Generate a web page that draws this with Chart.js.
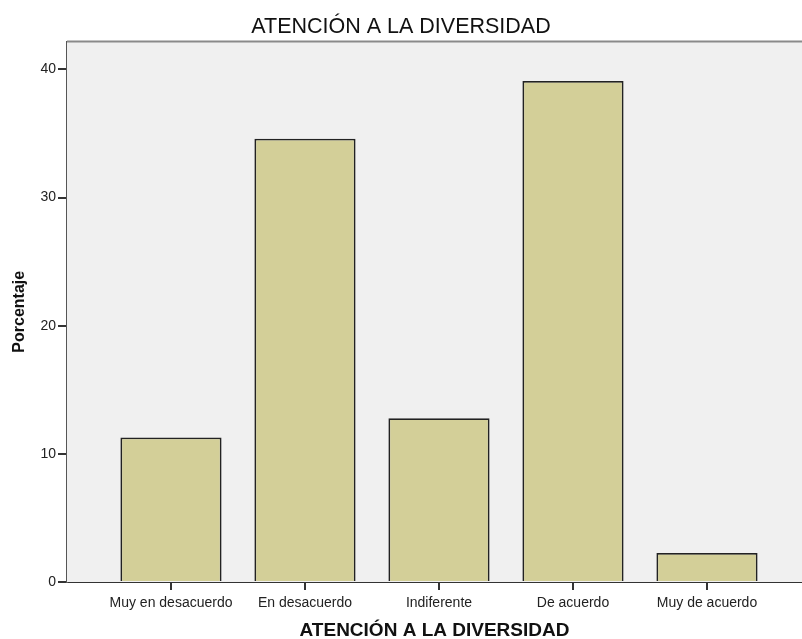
<!DOCTYPE html>
<html>
<head>
<meta charset="utf-8">
<script src="https://cdn.jsdelivr.net/npm/chart.js@4"></script>
<style>
  html, body { margin: 0; padding: 0; background: #ffffff; }
  #wrap { width: 802px; height: 639px; }
</style>
</head>
<body>
<div id="wrap"><canvas id="chart" width="802" height="639"></canvas></div>
<script>
// Categories and percentages
const categories = ['Muy en desacuerdo', 'En desacuerdo', 'Indiferente', 'De acuerdo', 'Muy de acuerdo'];
const porcentaje = [11.28, 34.59, 12.78, 39.10, 2.26];
const yTicks = [0, 10, 20, 30, 40];

const titleText = 'ATENCIÓN A LA DIVERSIDAD';
const fontFamily = "'Liberation Sans', Arial, sans-serif";

// Plot background + top frame line
const plotFrame = {
    id: 'plotFrame',
    beforeDatasetsDraw(chart) {
        const { ctx, chartArea } = chart;
        ctx.save();
        ctx.fillStyle = '#f0f0f0';
        ctx.fillRect(chartArea.left, chartArea.top, chartArea.right - chartArea.left, chartArea.bottom - chartArea.top);
        ctx.strokeStyle = '#8a8a8a';
        ctx.lineWidth = 2;
        ctx.beginPath();
        ctx.moveTo(chartArea.left, chartArea.top);
        ctx.lineTo(chartArea.right, chartArea.top);
        ctx.stroke();
        ctx.restore();
    }
};

const points = categories.map((c, i) => ({ x: i, y: porcentaje[i] }));

new Chart(document.getElementById('chart').getContext('2d'), {
    type: 'bar',
    data: {
        datasets: [{
            label: 'Porcentaje',
            data: points,
            backgroundColor: '#d3cf98',
            borderColor: '#222',
            borderWidth: 1.8,
            borderSkipped: 'start',
            categoryPercentage: 1,
            barPercentage: 0.755
        }]
    },
    plugins: [plotFrame],
    options: {
        responsive: false,
        animation: false,
        layout: { padding: 0 },
        plugins: {
            legend: { display: false },
            tooltip: { enabled: false },
            title: {
                display: true,
                text: titleText,
                color: '#111',
                font: { family: fontFamily, size: 21.5, weight: 'normal', lineHeight: 1 },
                padding: { top: 16, bottom: 4 }
            }
        },
        scales: {
            x: {
                type: 'linear',
                min: -0.776,
                max: 4.709,
                offset: false,
                afterFit: s => { s.height = 57; },
                afterBuildTicks: s => { s.ticks = categories.map((c, i) => ({ value: i })); },
                grid: { offset: false, drawOnChartArea: false, drawTicks: true, tickLength: 8, color: '#333', lineWidth: 2 },
                border: { display: true, color: '#333', width: 2 },
                ticks: {
                    autoSkip: false,
                    maxRotation: 0,
                    padding: 5,
                    color: '#222',
                    font: { family: fontFamily, size: 14 },
                    callback: v => categories[v] !== undefined ? categories[v] : ''
                },
                title: {
                    display: true,
                    text: titleText,
                    color: '#111',
                    font: { family: fontFamily, size: 19, weight: 'bold', lineHeight: 1 },
                    padding: { top: 0, bottom: -1.5 }
                }
            },
            y: {
                min: 0,
                max: 42.18,
                afterFit: s => { s.width = 67; },
                afterBuildTicks: s => { s.ticks = yTicks.map(v => ({ value: v })); },
                grid: { drawOnChartArea: false, drawTicks: true, tickLength: 9, color: '#333', lineWidth: 2 },
                border: { display: true, color: '#555', width: 2 },
                ticks: {
                    padding: 2,
                    color: '#222',
                    font: { family: fontFamily, size: 14 }
                },
                title: {
                    display: true,
                    text: 'Porcentaje',
                    color: '#111',
                    font: { family: fontFamily, size: 16, weight: 'bold', lineHeight: 1 },
                    padding: { top: 12, bottom: 0 }
                }
            }
        }
    }
});
</script>
</body>
</html>
